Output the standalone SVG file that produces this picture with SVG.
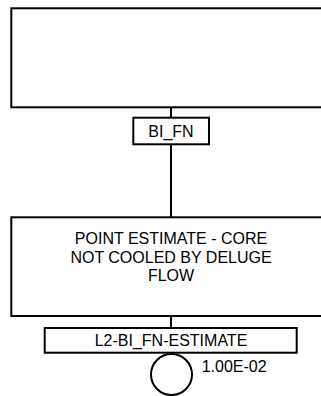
<svg xmlns="http://www.w3.org/2000/svg" width="321" height="396" viewBox="0 0 321 396">
<style>
.box{fill:#fff;stroke:#000;stroke-width:2}
.ln{stroke:#000;stroke-width:2;fill:none}
text{font-family:"Liberation Sans",Arial,sans-serif;font-size:16px;fill:#000;text-anchor:middle}
</style>
<rect width="321" height="396" fill="#fff"/>
<g id="connectors">
<line class="ln" x1="171" y1="107.3" x2="171" y2="117.7"/>
<line class="ln" x1="171" y1="144.3" x2="171" y2="217.3"/>
<line class="ln" x1="171" y1="316" x2="171" y2="328"/>
</g>
<g id="top-gate">
<rect class="box" x="11.3" y="8.3" width="320" height="99"/>
</g>
<g id="bi-fn-label">
<rect class="box" x="133.3" y="117.7" width="75.7" height="26.6"/>
<text x="171" y="136.6">BI_FN</text>
</g>
<g id="point-estimate">
<rect class="box" x="11.3" y="217.3" width="320" height="98.7"/>
<text x="171" y="244.3">POINT ESTIMATE - CORE</text>
<text x="171" y="262.7">NOT COOLED BY DELUGE</text>
<text x="171" y="281.1">FLOW</text>
</g>
<g id="l2-estimate">
<rect class="box" x="44.7" y="328" width="252" height="24.7"/>
<text x="171" y="346.3">L2-BI_FN-ESTIMATE</text>
</g>
<g id="basic-event">
<circle class="box" cx="171.5" cy="374.5" r="20.5"/>
<text x="201.7" y="371.7" style="text-anchor:start">1.00E-02</text>
</g>
</svg>
